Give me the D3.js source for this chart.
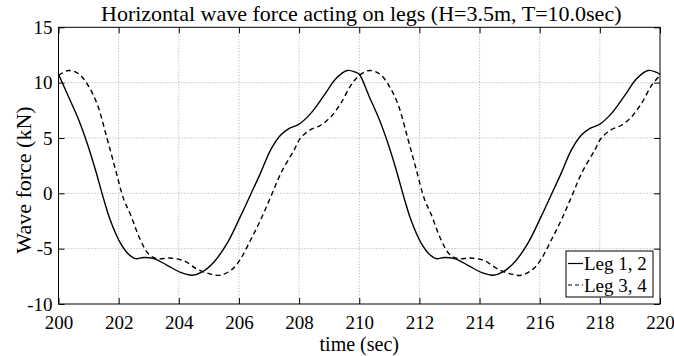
<!DOCTYPE html>
<html>
<head>
<meta charset="utf-8">
<script src="https://d3js.org/d3.v7.min.js"></script>
<style>
  body { margin: 0; background: #fff; }
  svg text { font-family: "Liberation Serif", "Times New Roman", serif; fill: #000; }
  .grid line { stroke: #a8a8a8; stroke-width: 1; stroke-dasharray: 1,2; }
</style>
</head>
<body>
<svg width="674" height="356"></svg>
<script>
// time (sec) and horizontal force (kN)
const timeLeg12 = [200.00, 200.33, 200.67, 200.95, 201.22, 201.50, 201.72, 202.06, 202.33, 202.56, 202.83, 203.17, 203.61, 204.06, 204.45, 204.78, 205.17, 205.61, 206.03, 206.39, 206.72, 207.05, 207.38, 207.66, 208.00, 208.38, 208.83, 209.22, 209.60, 209.87,
                   210.00, 210.33, 210.67, 210.95, 211.22, 211.50, 211.72, 212.06, 212.33, 212.56, 212.83, 213.17, 213.61, 214.06, 214.45, 214.78, 215.17, 215.61, 216.03, 216.39, 216.72, 217.05, 217.38, 217.66, 218.00, 218.38, 218.83, 219.22, 219.60, 219.87, 220.00];
const forceLeg12 = [10.75, 8.75, 6.65, 4.55, 2.2, -0.5, -2.4, -4.5, -5.5, -5.9, -5.8, -5.9, -6.5, -7.15, -7.4, -7.1, -6.2, -4.5, -2.2, -0.1, 1.85, 3.9, 5.25, 5.85, 6.25, 7.2, 8.85, 10.35, 11.1, 10.95,
                    10.75, 8.75, 6.65, 4.55, 2.2, -0.5, -2.4, -4.5, -5.5, -5.9, -5.8, -5.9, -6.5, -7.15, -7.4, -7.1, -6.2, -4.5, -2.2, -0.1, 1.85, 3.9, 5.25, 5.85, 6.25, 7.2, 8.85, 10.35, 11.1, 10.95, 10.75];

const timeLeg34 = [200.00, 200.33, 200.67, 200.95, 201.28, 201.61, 201.89, 202.17, 202.39, 202.72, 203.00, 203.28, 203.72, 204.17, 204.61, 205.06, 205.39, 205.78, 206.06, 206.39, 206.72, 207.06, 207.40, 207.83, 208.05, 208.38, 208.72, 209.05, 209.38, 209.72,
                   210.00, 210.33, 210.67, 210.95, 211.28, 211.61, 211.89, 212.17, 212.39, 212.72, 213.00, 213.28, 213.72, 214.17, 214.61, 215.06, 215.39, 215.78, 216.06, 216.39, 216.72, 217.06, 217.40, 217.83, 218.05, 218.38, 218.72, 219.05, 219.38, 219.72, 220.00];
const forceLeg34 = [10.65, 11.1, 10.8, 9.9, 8.1, 5.0, 2.2, -0.55, -1.9, -4.2, -5.5, -5.9, -5.85, -6.1, -6.85, -7.3, -7.4, -6.85, -5.9, -4.2, -2.4, -0.3, 1.85, 3.9, 5.0, 5.75, 6.15, 6.9, 8.1, 9.75,
                    10.65, 11.1, 10.8, 9.9, 8.1, 5.0, 2.2, -0.55, -1.9, -4.2, -5.5, -5.9, -5.85, -6.1, -6.85, -7.3, -7.4, -6.85, -5.9, -4.2, -2.4, -0.3, 1.85, 3.9, 5.0, 5.75, 6.15, 6.9, 8.1, 9.75, 10.65];

const xTicks = [200, 202, 204, 206, 208, 210, 212, 214, 216, 218, 220];
const yTicks = [-10, -5, 0, 5, 10, 15];
const seriesNames = ["Leg 1, 2", "Leg 3, 4"];

const plotLeft = 58.5, plotRight = 660, plotTop = 27.3, plotBottom = 304;
const tickLen = 6;
const serif = '"Liberation Serif", "Times New Roman", serif';

const svg = d3.select("svg");

const x = d3.scaleLinear().domain([200, 220]).range([plotLeft, plotRight]);
const y = d3.scaleLinear().domain([-10, 15]).range([plotBottom, plotTop]);

// grid
const grid = svg.append("g").attr("class", "grid");
grid.selectAll(".gx").data(xTicks.slice(1, -1)).enter().append("line")
    .attr("x1", d => x(d)).attr("x2", d => x(d))
    .attr("y1", plotTop).attr("y2", plotBottom);
grid.selectAll(".gy").data(yTicks.slice(1, -1)).enter().append("line")
    .attr("y1", d => y(d)).attr("y2", d => y(d))
    .attr("x1", plotLeft).attr("x2", plotRight);

// axes with inward ticks on all four sides
function styleAxis(g) {
    g.attr("font-family", serif).attr("font-size", 19);
    g.select(".domain").remove();
    g.selectAll("line").attr("stroke", "#000");
}

svg.append("g").attr("transform", `translate(0,${plotBottom})`)
    .call(d3.axisBottom(x).tickValues(xTicks).tickSizeInner(-tickLen).tickSizeOuter(0).tickPadding(12))
    .call(styleAxis);
svg.append("g").attr("transform", `translate(0,${plotTop})`)
    .call(d3.axisTop(x).tickValues(xTicks).tickSizeInner(-tickLen).tickSizeOuter(0).tickFormat(""))
    .call(styleAxis);
svg.append("g").attr("transform", `translate(${plotLeft},0)`)
    .call(d3.axisLeft(y).tickValues(yTicks).tickSizeInner(-tickLen).tickSizeOuter(0).tickPadding(6)
        .tickFormat(d => String(d)))
    .call(styleAxis);
svg.append("g").attr("transform", `translate(${plotRight},0)`)
    .call(d3.axisRight(y).tickValues(yTicks).tickSizeInner(-tickLen).tickSizeOuter(0).tickFormat(""))
    .call(styleAxis);

// box
svg.append("rect")
    .attr("x", plotLeft).attr("y", plotTop)
    .attr("width", plotRight - plotLeft).attr("height", plotBottom - plotTop)
    .attr("fill", "none").attr("stroke", "#000").attr("stroke-width", 1);

// lines
const line = d3.line()
    .x(d => x(d[0])).y(d => y(d[1]))
    .curve(d3.curveCatmullRom.alpha(0.5));

svg.append("path")
    .datum(d3.zip(timeLeg12, forceLeg12))
    .attr("d", line)
    .attr("fill", "none").attr("stroke", "#000").attr("stroke-width", 1.4);

svg.append("path")
    .datum(d3.zip(timeLeg34, forceLeg34))
    .attr("d", line)
    .attr("fill", "none").attr("stroke", "#000").attr("stroke-width", 1.4)
    .attr("stroke-dasharray", "5,3.5");

// title and labels
svg.append("text")
    .attr("x", (plotLeft + plotRight) / 2 + 2).attr("y", 20.5)
    .attr("text-anchor", "middle")
    .attr("font-family", serif).attr("font-size", 22)
    .text("Horizontal wave force acting on legs (H=3.5m, T=10.0sec)");

svg.append("text")
    .attr("x", (plotLeft + plotRight) / 2).attr("y", 351)
    .attr("text-anchor", "middle")
    .attr("font-family", serif).attr("font-size", 20)
    .text("time (sec)");

svg.append("text")
    .attr("transform", "rotate(-90)")
    .attr("x", -180).attr("y", 31)
    .attr("text-anchor", "middle")
    .attr("font-family", serif).attr("font-size", 22)
    .text("Wave force (kN)");

// legend
const legend = svg.append("g").attr("transform", "translate(566,251)");
legend.append("rect")
    .attr("width", 87).attr("height", 46)
    .attr("fill", "#fff").attr("stroke", "#000").attr("stroke-width", 1);
seriesNames.forEach((name, i) => {
    const cy = 12.5 + i * 21.5;
    legend.append("line")
        .attr("x1", 2).attr("x2", 17).attr("y1", cy).attr("y2", cy)
        .attr("stroke", "#000").attr("stroke-width", 1.2)
        .attr("stroke-dasharray", i === 0 ? null : "4,3");
    legend.append("text")
        .attr("x", 18).attr("y", cy + 6.5)
        .attr("font-family", serif).attr("font-size", 19)
        .text(name);
});
</script>
</body>
</html>
